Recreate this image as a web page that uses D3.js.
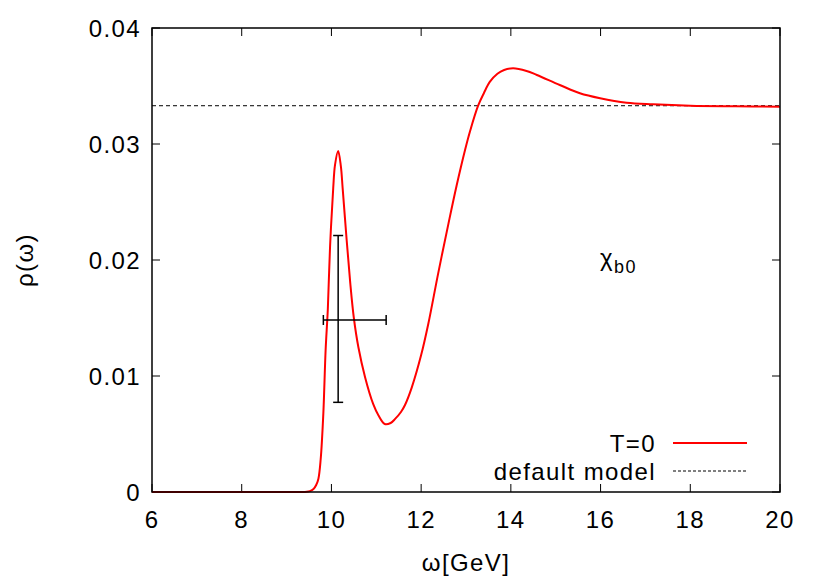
<!DOCTYPE html>
<html><head><meta charset="utf-8">
<script src="https://cdn.jsdelivr.net/npm/d3@7"></script>
<style>body{margin:0;background:#fff;} text{font-family:"Liberation Sans",Arial,sans-serif;letter-spacing:1.4px;}</style>
</head><body><svg id="c" width="830" height="581"></svg>
<script>
const omega = [6, 9.3, 9.45, 9.52, 9.6, 9.66, 9.71, 9.76, 9.82, 9.87, 9.92, 9.97, 10.04, 10.08, 10.15, 10.21, 10.25, 10.34, 10.42, 10.5, 10.6, 10.75, 10.93, 11.05, 11.19, 11.32, 11.42, 11.55, 11.64, 11.79, 12.0, 12.16, 12.38, 12.61, 12.79, 12.98, 13.09, 13.27, 13.4, 13.53, 13.7, 13.85, 14.05, 14.35, 14.58, 15.09, 15.54, 15.99, 16.58, 17.17, 18, 19, 20];
const rho   = [0, 0, 0.00002, 0.00008, 0.00025, 0.0006, 0.00115, 0.0028, 0.0068, 0.0122, 0.0158, 0.0212, 0.0262, 0.0282, 0.0294, 0.0281, 0.0262, 0.0217, 0.0180, 0.0150, 0.0125, 0.0099, 0.0076, 0.0066, 0.00586, 0.00595, 0.0063, 0.0069, 0.0075, 0.0090, 0.0118, 0.0145, 0.01885, 0.02316, 0.0264, 0.0295, 0.0311, 0.0333, 0.0344, 0.03535, 0.03605, 0.03638, 0.03653, 0.0363, 0.03595, 0.03509, 0.03437, 0.03394, 0.03356, 0.03342, 0.0333, 0.03325, 0.03322];
const defaultModel = 0.0333;
const errPoint = {x: 10.15, y: 0.01483, xlo: 9.82, xhi: 11.22, ylo: 0.00773, yhi: 0.02211};
const xTicks = [6, 8, 10, 12, 14, 16, 18, 20];
const yTicks = [0, 0.01, 0.02, 0.03, 0.04];
const yTickLabels = ["0", "0.01", "0.02", "0.03", "0.04"];

const svg = d3.select("#c");
const L = 152, R = 780, T = 28, B = 492;
const x = d3.scaleLinear().domain([6, 20]).range([L, R]);
const y = d3.scaleLinear().domain([0, 0.04]).range([B, T]);
const tl = 8;
const FS = 24;

// ticks (inside, mirrored)
const g = svg.append("g").attr("stroke", "#000").attr("stroke-width", 1);
xTicks.forEach(t => {
  g.append("line").attr("x1", x(t)).attr("x2", x(t)).attr("y1", B).attr("y2", B - tl);
  g.append("line").attr("x1", x(t)).attr("x2", x(t)).attr("y1", T).attr("y2", T + tl);
});
yTicks.forEach(t => {
  g.append("line").attr("x1", L).attr("x2", L + tl).attr("y1", y(t)).attr("y2", y(t));
  g.append("line").attr("x1", R).attr("x2", R - tl).attr("y1", y(t)).attr("y2", y(t));
});
xTicks.forEach(t => {
  svg.append("text").attr("x", x(t)).attr("y", 528).attr("text-anchor", "middle")
    .attr("font-size", FS).text(t);
});
yTicks.forEach((t, i) => {
  svg.append("text").attr("x", 141).attr("y", y(t) + 8.5).attr("text-anchor", "end")
    .attr("font-size", FS).text(yTickLabels[i]);
});

// default model
svg.append("line").attr("x1", L).attr("x2", R).attr("y1", y(defaultModel)).attr("y2", y(defaultModel))
  .attr("stroke", "#000").attr("stroke-width", 1).attr("stroke-dasharray", "4,3");

// curve
const line = d3.line().x((d, i) => x(omega[i])).y((d, i) => y(rho[i])).curve(d3.curveCatmullRom.alpha(0.5));
svg.append("path").datum(rho).attr("d", line).attr("fill", "none").attr("stroke", "#ff0000").attr("stroke-width", 2);

// error bars
const eg = svg.append("g").attr("stroke", "#000").attr("stroke-width", 1.5);
eg.append("line").attr("x1", x(errPoint.x)).attr("x2", x(errPoint.x)).attr("y1", y(errPoint.ylo)).attr("y2", y(errPoint.yhi));
eg.append("line").attr("x1", x(errPoint.x) - 5).attr("x2", x(errPoint.x) + 5).attr("y1", y(errPoint.ylo)).attr("y2", y(errPoint.ylo));
eg.append("line").attr("x1", x(errPoint.x) - 5).attr("x2", x(errPoint.x) + 5).attr("y1", y(errPoint.yhi)).attr("y2", y(errPoint.yhi));
eg.append("line").attr("x1", x(errPoint.xlo)).attr("x2", x(errPoint.xhi)).attr("y1", y(errPoint.y)).attr("y2", y(errPoint.y));
eg.append("line").attr("x1", x(errPoint.xlo)).attr("x2", x(errPoint.xlo)).attr("y1", y(errPoint.y) - 5).attr("y2", y(errPoint.y) + 5);
eg.append("line").attr("x1", x(errPoint.xhi)).attr("x2", x(errPoint.xhi)).attr("y1", y(errPoint.y) - 5).attr("y2", y(errPoint.y) + 5);

// frame
svg.append("rect").attr("x", L).attr("y", T).attr("width", R - L).attr("height", B - T)
  .attr("fill", "none").attr("stroke", "#000").attr("stroke-width", 1.5);

// axis labels
svg.append("text").attr("x", (L + R) / 2).attr("y", 571).attr("text-anchor", "middle").attr("font-size", FS).text("ω[GeV]");
svg.append("text").attr("transform", "translate(33," + 260 + ") rotate(-90)").attr("text-anchor", "middle")
  .attr("font-size", FS).text("ρ(ω)");

// annotation
const ann = svg.append("text").attr("x", 600).attr("y", 266).attr("font-size", FS);
ann.append("tspan").text("χ");
ann.append("tspan").attr("font-size", 18).attr("dy", 7).text("b0");

// legend
svg.append("text").attr("x", 656).attr("y", 452).attr("text-anchor", "end").attr("font-size", FS).text("T=0");
svg.append("line").attr("x1", 673).attr("x2", 747).attr("y1", 443).attr("y2", 443).attr("stroke", "#ff0000").attr("stroke-width", 2);
svg.append("text").attr("x", 656).attr("y", 480).attr("text-anchor", "end").attr("font-size", FS).text("default model");
svg.append("line").attr("x1", 673).attr("x2", 747).attr("y1", 471).attr("y2", 471).attr("stroke", "#000").attr("stroke-width", 1).attr("stroke-dasharray", "3,2");
</script></body></html>
